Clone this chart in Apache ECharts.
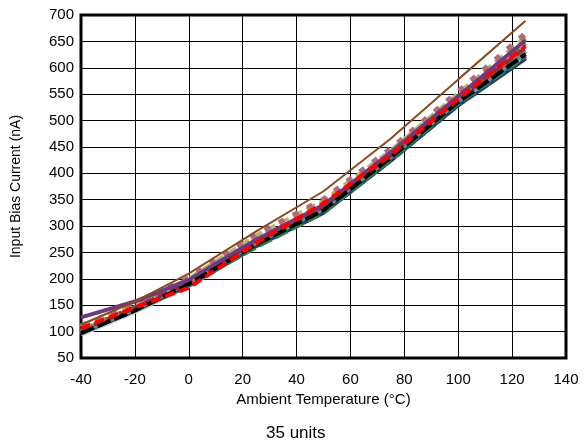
<!DOCTYPE html>
<html>
<head>
<meta charset="utf-8">
<script src="https://cdn.jsdelivr.net/npm/echarts@6/dist/echarts.min.js"></script>
<style>
  html, body { margin: 0; padding: 0; background: #fff; }
  #chart { width: 587px; height: 445px; }
</style>
</head>
<body>
<div id="chart"></div>
<script>
// temperatures (°C) where each unit was measured
const temps = [-40, -20, 0, 25, 50, 75, 100, 125];

// input bias current (nA) per unit
const unitBrown     = [113, 157, 210, 290, 366, 466, 578, 689];
const unitPurple    = [127, 157, 198, 274, 340, 440, 546, 652];
const unitMauve     = [110, 150, 201, 283, 350, 446, 554, 664];
const unitKhaki     = [108, 149, 198, 280, 346, 441, 549, 656];
const unitOlive     = [104, 147, 195, 273, 339, 437, 543, 646];
const unitDarkRed   = [103, 145, 193, 271, 337, 434, 541, 638];
const unitGray      = [100, 143, 194, 270, 335, 432, 538, 632];
const unitSteel     = [101, 144, 191, 268, 333, 431, 537, 628];
const unitGreen     = [99, 141, 189, 261, 326, 427, 533, 623];
const unitTeal      = [98, 142, 188, 263, 327, 425, 530, 619];
const unitLightGray = [95, 138, 187, 263, 328, 428, 532, 621];
const unitNavy      = [96, 139, 187, 261, 324, 423, 528, 616];
const unitBlack     = [97, 140, 190, 265, 330, 430, 535, 626];
const unitRed       = [106, 146, 183, 268, 343, 435, 541, 641];

const units = [
  { data: unitLightGray, color: '#c8c8c8', width: 5, dash: 'solid' },
  { data: unitTeal,      color: '#2f7f8c', width: 5, dash: [10, 3] },
  { data: unitNavy,      color: '#1f3f6f', width: 3, dash: 'solid' },
  { data: unitGreen,     color: '#2e7a4e', width: 5, dash: [14, 4] },
  { data: unitSteel,     color: '#5f8fa8', width: 4, dash: [8, 4] },
  { data: unitGray,      color: '#808080', width: 5, dash: 'solid' },
  { data: unitOlive,     color: '#7a7a3a', width: 4, dash: [12, 4] },
  { data: unitKhaki,     color: '#b8b070', width: 6, dash: [10, 5] },
  { data: unitMauve,     color: '#b06a78', width: 6, dash: [6, 10] },
  { data: unitDarkRed,   color: '#8c2f3f', width: 4, dash: [10, 4] },
  { data: unitPurple,    color: '#6e3a7e', width: 4, dash: 'solid' },
  { data: unitBlack,     color: '#000000', width: 4, dash: [14, 4] },
  { data: unitRed,       color: '#ff0000', width: 4, dash: [10, 5] },
  { data: unitBrown,     color: '#8b4a1e', width: 2, dash: 'solid' }
];

const chart = echarts.init(document.getElementById('chart'));
const font = 'Liberation Sans, Arial, sans-serif';

chart.setOption({
  animation: false,
  grid: {
    left: 81, right: 21, top: 15, bottom: 87,
    show: true, borderColor: '#000', borderWidth: 3
  },
  xAxis: {
    type: 'value',
    min: -40, max: 140, interval: 20,
    name: 'Ambient Temperature (\u00b0C)',
    nameLocation: 'middle', nameGap: 30,
    nameTextStyle: { color: '#000', fontSize: 15, fontFamily: font },
    axisLine: { show: false },
    axisTick: { show: false },
    axisLabel: { color: '#000', fontSize: 15, fontFamily: font, margin: 14 },
    splitLine: { lineStyle: { color: '#000', width: 1 } }
  },
  yAxis: {
    type: 'value',
    min: 50, max: 700, interval: 50,
    name: 'Input Bias Current (nA)',
    nameLocation: 'middle', nameGap: 58,
    nameTextStyle: { color: '#000', fontSize: 14, fontFamily: font },
    axisLine: { show: false },
    axisTick: { show: false },
    axisLabel: { color: '#000', fontSize: 15, fontFamily: font, margin: 7 },
    splitLine: { lineStyle: { color: '#000', width: 1 } }
  },
  graphic: [{
    type: 'text',
    left: 266, top: 425,
    style: { text: '35 units', fill: '#000', fontSize: 17, fontFamily: font }
  }],
  series: units.map(u => ({
    type: 'line',
    data: temps.map((t, i) => [t, u.data[i]]),
    symbol: 'none',
    smooth: false,
    lineStyle: { color: u.color, width: u.width, type: u.dash }
  }))
});
</script>
</body>
</html>
